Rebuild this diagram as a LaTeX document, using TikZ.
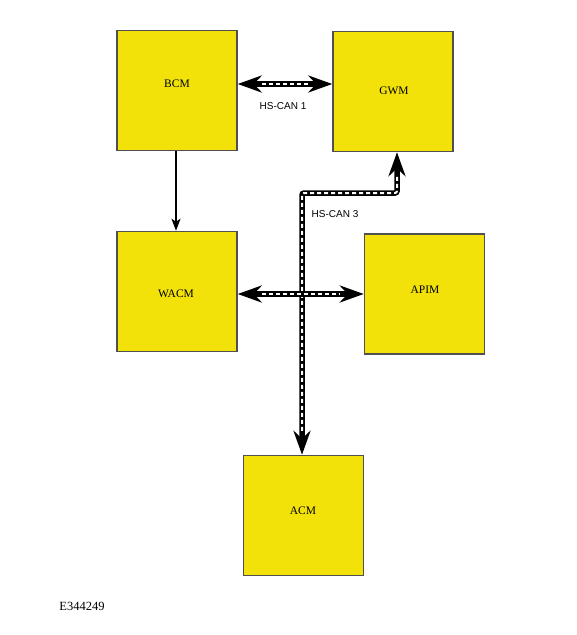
\documentclass[tikz,border=0pt]{standalone}
\usepackage{fontspec}
\setmainfont{Liberation Serif}
\newfontfamily\arialfont{Liberation Sans}
\usetikzlibrary{arrows.meta,calc}
\definecolor{boxyellow}{RGB}{242,226,10}
\definecolor{boxedge}{RGB}{80,80,80}
\tikzset{
  ecu/.style={draw=boxedge, line width=1.5pt, fill=boxyellow, minimum width=120pt, minimum height=120pt, inner sep=0pt},
  ecutext/.style={font=\fontsize{11.5}{12}\selectfont, inner sep=0pt},
  buslabel/.style={font=\arialfont\fontsize{10}{11}\selectfont, inner sep=0pt},
  cableblack/.style={draw=black, line width=5.5pt, rounded corners=2pt, {Stealth[length=24pt,width=17pt,inset=8pt]}-{Stealth[length=24pt,width=17pt,inset=8pt]}},
  cablewhite/.style={draw=white, line width=2pt, dash pattern=on 4pt off 3pt, rounded corners=2pt, shorten <=24pt, shorten >=24pt},
  thinarrow/.style={draw=black, line width=2pt, -{Stealth[length=12pt,width=9pt,inset=3pt]}}
}
\begin{document}
\begin{tikzpicture}[x=1pt,y=-1pt]
\useasboundingbox (0,0) rectangle (577,635);
% boxes
\node[ecu] (BCM)  at (177,90.5) {};
\node[ecu] (GWM)  at (393,91.5) {};
\node[ecu] (WACM) at (177,291.5) {};
\node[ecu] (APIM) at (424.5,294) {};
\node[ecu] (ACM)  at (303.5,515.5) {};
% box texts
\node[ecutext] (tBCM)  at (177,84) {BCM};
\node[ecutext] (tGWM)  at (394,91) {GWM};
\node[ecutext] (tWACM) at (176,294) {WACM};
\node[ecutext] (tAPIM) at (425,290) {APIM};
\node[ecutext] (tACM)  at (303,511) {ACM};
% helper coordinates
\coordinate (h1) at (0,84);
\coordinate (h2) at (0,294);
\coordinate (j)  at (302,193);
\coordinate (k)  at (397,193);
% BCM -> WACM
\draw[thinarrow] (BCM.south -| 176,0) -- (WACM.north -| 176,0);
% HS-CAN 1
\draw[cableblack] (BCM.east |- h1) -- (GWM.west |- h1);
\draw[cablewhite] (BCM.east |- h1) -- (GWM.west |- h1);
% HS-CAN 3
\draw[cableblack] (ACM.north -| j) -- (j) -- (k) -- (GWM.south -| k);
\draw[cablewhite] (ACM.north -| j) -- (j) -- (k) -- (GWM.south -| k);
% WACM <-> APIM
\draw[cableblack] (WACM.east |- h2) -- (APIM.west |- h2);
\draw[cablewhite] (WACM.east |- h2) -- (APIM.west |- h2);
% labels
\node[buslabel] (l1) at (283,106) {HS-CAN 1};
\node[buslabel] (l3) at (335,214) {HS-CAN 3};
\node[font=\fontsize{12.5}{13}\selectfont, inner sep=0pt] (fig) at (82,606) {E344249};
\end{tikzpicture}
\end{document}
